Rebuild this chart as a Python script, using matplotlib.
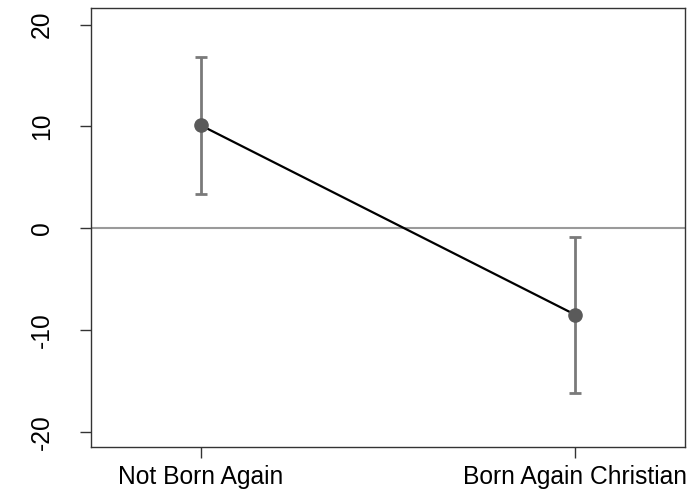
import matplotlib
matplotlib.use("Agg")
import matplotlib.pyplot as plt

plt.rcParams['font.family'] = ['Liberation Sans', 'DejaVu Sans']

categories = ["Not Born Again", "Born Again Christian"]
estimates = [10.1, -8.5]
ci_low = [3.4, -16.2]
ci_high = [16.8, -0.9]
yticks = [-20, -10, 0, 10, 20]

x = [1, 2]
err_lo = [e - l for e, l in zip(estimates, ci_low)]
err_hi = [h - e for e, h in zip(estimates, ci_high)]

fig = plt.figure(figsize=(6.92, 4.93), dpi=100)
ax = fig.add_axes([0.132, 0.093, 0.858, 0.89])

ax.axhline(0, color="#9a9a9a", lw=1.5, zorder=1)
ax.errorbar(x, estimates, yerr=[err_lo, err_hi], fmt="none", ecolor="#7a7a7a",
            elinewidth=2, capsize=4.3, capthick=2, zorder=2)
ax.plot(x, estimates, color="black", lw=1.6, zorder=3)
ax.plot(x, estimates, "o", color="#5a5a5a", ms=9.5, zorder=4)

ax.set_xlim(0.707, 2.293)
ax.set_ylim(-21.5, 21.6)
ax.set_xticks(x)
ax.set_xticklabels(categories, fontsize=17.7)
ax.set_yticks(yticks)
ax.set_yticklabels([str(t) for t in yticks], fontsize=17.7, rotation=90, va="center")

for s in ax.spines.values():
    s.set_color("#333333")
    s.set_linewidth(1)
ax.tick_params(axis="both", length=8, width=1, color="#333333", labelcolor="black")
ax.tick_params(axis="x", pad=5)
ax.tick_params(axis="y", pad=19)

fig.savefig("out.png", dpi=100)
